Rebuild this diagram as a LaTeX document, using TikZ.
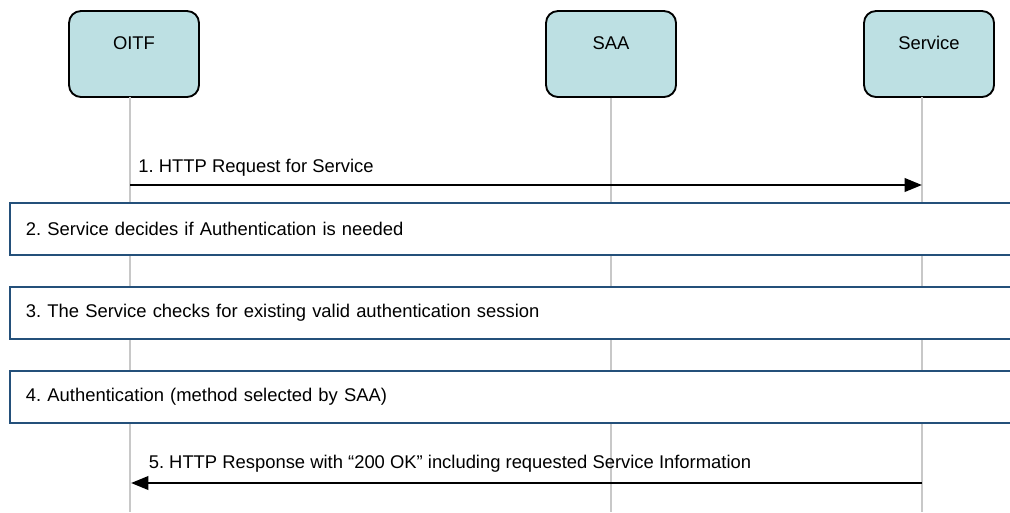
\documentclass[tikz,border=0pt]{standalone}
\usepackage{fontspec}
\setmainfont{Liberation Sans}
\usetikzlibrary{arrows.meta}

\definecolor{actorfill}{HTML}{BDE0E3}
\definecolor{boxline}{HTML}{24507A}
\definecolor{lifeline}{HTML}{C8C8C8}

\tikzset{
  actor/.style={draw=black,line width=1.4pt,fill=actorfill,rounded corners=9pt,
    minimum width=97.5pt,minimum height=64.5pt,inner sep=0pt},
  stepbox/.style={draw=boxline,line width=1.5pt,anchor=west,minimum width=780pt,
    minimum height=39pt,text width=760pt,inner xsep=12pt,align=left},
  msg/.style={line width=2pt,-{Triangle[length=13pt,width=10pt]}},
}

\begin{document}
\frenchspacing
\begin{tikzpicture}[x=0.75pt,y=-0.75pt,font=\fontsize{13.8pt}{16pt}\selectfont]
\useasboundingbox (0,0) rectangle (1010,512);
\begin{scope}
\clip (0,0) rectangle (1010,512);
% participants
\node (O) [actor,label={[anchor=center,yshift=-24.5pt]north:OITF}] at (134,54) {};
\node (S) [actor,label={[anchor=center,yshift=-24.5pt]north:SAA}] at (611,54) {};
\node (V) [actor,label={[anchor=center,yshift=-24.5pt]north:Service}] at (929,54) {};
% lifelines
\coordinate (Oend) at (130,512);
\coordinate (Send) at (611,512);
\coordinate (Vend) at (922,512);
\draw [lifeline,line width=1.5pt] (130,97) -- (Oend);
\draw [lifeline,line width=1.5pt] (S.south) -- (Send);
\draw [lifeline,line width=1.5pt] (922,97) -- (Vend);
% steps
\node (st2) [stepbox,fill=white] at (9,229) {2. Service decides if Authentication is needed};
\node (st3) [stepbox,fill=white] at (9,313) {3. The Service checks for existing valid authentication session};
\node (st4) [stepbox,fill=white] at (9,397) {4. Authentication (method selected by SAA)};
% messages
\coordinate (O1) at (130,185);
\coordinate (V1) at (922,185);
\coordinate (O5) at (131,483);
\coordinate (V5) at (922,483);
\draw [msg] (O1) -- (V1) node[pos=0,above right,xshift=2pt,yshift=2.5pt] {1. HTTP Request for Service};
\draw [msg] (V5) -- (O5) node[pos=1,above right,xshift=9pt,yshift=3.5pt] {5. HTTP Response with “200 OK” including requested Service Information};
\end{scope}
\end{tikzpicture}
\end{document}
